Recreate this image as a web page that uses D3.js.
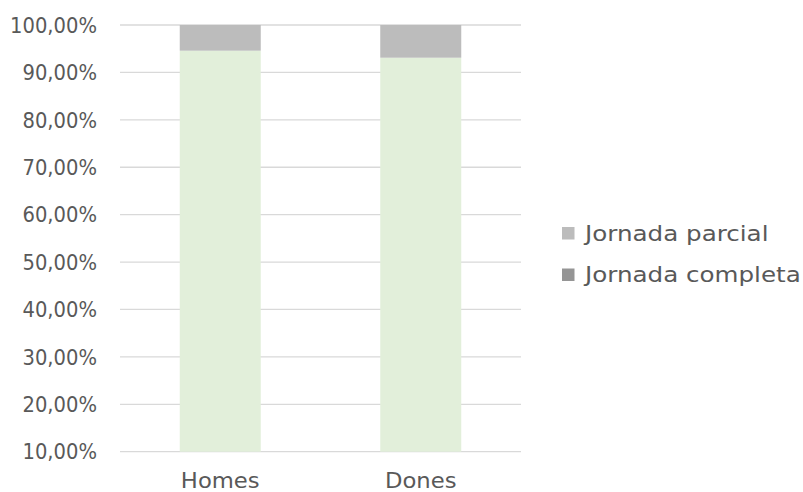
<!DOCTYPE html>
<html>
<head>
<meta charset="utf-8">
<script src="https://cdn.jsdelivr.net/npm/d3@7"></script>
<style>
  body { margin: 0; background: #fff; }
  text { font-family: "DejaVu Sans", sans-serif; fill: #595959; font-size: 21px; }
</style>
</head>
<body>
<svg id="chart"></svg>
<script>
const categories = ["Homes", "Dones"];
const completa = [0.9458, 0.931];
const parcial = [0.0542, 0.069];
const seriesNames = ["Jornada parcial", "Jornada completa"];
const yTicks = [0.1, 0.2, 0.3, 0.4, 0.5, 0.6, 0.7, 0.8, 0.9, 1.0];

const WIDTH = 803;
const HEIGHT = 492;
const svg = d3.select("#chart").attr("width", WIDTH).attr("height", HEIGHT);

const X0 = 120, X1 = 521, Y_TOP = 25, Y_BOT = 451.7;
const xScale = d3.scaleBand(categories, [X0, X1]).paddingInner(0.596).paddingOuter(0.298);
const yScale = d3.scaleLinear([0.1, 1.0], [Y_BOT, Y_TOP]);

const fmt = v => (v * 100).toFixed(2).replace(".", ",") + "%";

// stretch text horizontally to mimic the wider original typeface
function widen(sel, k) {
	sel.each(function () {
		const w = this.getComputedTextLength();
		this.setAttribute("textLength", w * k);
		this.setAttribute("lengthAdjust", "spacingAndGlyphs");
	});
}

// grid
svg.append("g")
	.selectAll("line")
	.data(yTicks)
	.join("line")
	.attr("x1", X0)
	.attr("x2", X1)
	.attr("y1", d => yScale(d))
	.attr("y2", d => yScale(d))
	.attr("stroke", "#d9d9d9")
	.attr("stroke-width", 1.3);

// y labels
svg.append("g")
	.selectAll("text")
	.data(yTicks)
	.join("text")
	.attr("x", 97)
	.attr("y", d => yScale(d))
	.attr("dy", "0.37em")
	.attr("text-anchor", "end")
	.text(fmt)
	.call(widen, 0.93);

const rows = categories.map((c, i) => ({ cat: c, completa: completa[i], parcial: parcial[i] }));

// bars
svg.append("g")
	.selectAll("rect")
	.data(rows)
	.join("rect")
	.attr("x", d => xScale(d.cat))
	.attr("width", xScale.bandwidth())
	.attr("y", d => yScale(d.completa))
	.attr("height", d => yScale(0.1) - yScale(d.completa))
	.attr("fill", "#e2efda");

svg.append("g")
	.selectAll("rect")
	.data(rows)
	.join("rect")
	.attr("x", d => xScale(d.cat))
	.attr("width", xScale.bandwidth())
	.attr("y", d => yScale(d.completa + d.parcial))
	.attr("height", d => yScale(d.completa) - yScale(d.completa + d.parcial))
	.attr("fill", "#bcbcbc");

// x labels
svg.append("g")
	.selectAll("text")
	.data(categories)
	.join("text")
	.attr("x", d => xScale(d) + xScale.bandwidth() / 2)
	.attr("y", 488)
	.attr("text-anchor", "middle")
	.text(d => d)
	.call(widen, 1.08);

// legend
const legendColors = ["#bcbcbc", "#959595"];
const legend = svg.append("g")
	.selectAll("g")
	.data(seriesNames)
	.join("g")
	.attr("transform", (d, i) => `translate(562, ${233 + i * 41.5})`);
legend.append("rect")
	.attr("x", 0)
	.attr("y", -6)
	.attr("width", 12.5)
	.attr("height", 12.5)
	.attr("fill", (d, i) => legendColors[i]);
legend.append("text")
	.attr("x", 23)
	.attr("y", 0)
	.attr("dy", "0.37em")
	.text(d => d)
	.call(widen, 1.17);
</script>
</body>
</html>
